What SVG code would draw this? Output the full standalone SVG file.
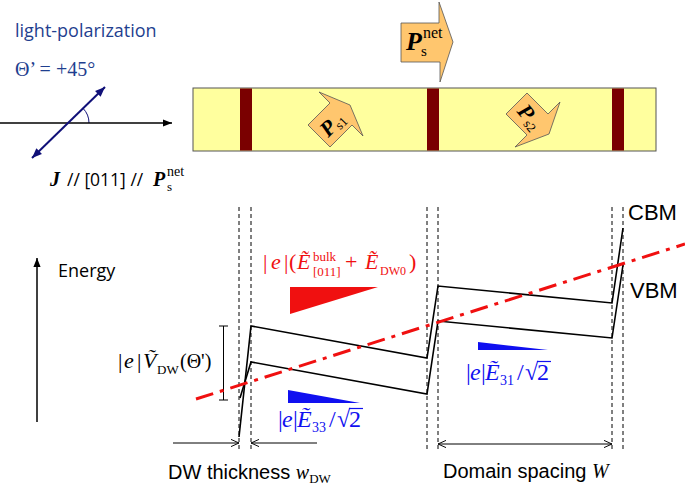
<svg xmlns="http://www.w3.org/2000/svg" width="685" height="486" viewBox="0 0 685 486">
<defs>
<style>
.sans{font-family:"Open Sans","Noto Sans",sans-serif}
.arial{font-family:"Liberation Sans",Arial,sans-serif}
.serif{font-family:"Liberation Serif","Times New Roman",serif}
.it{font-style:italic}
.bi{font-style:italic;font-weight:bold}
.dash{stroke:#000;stroke-width:1;stroke-dasharray:4 3;fill:none}
.band{stroke:#000;stroke-width:1.6;fill:none}
.dim{stroke:#000;stroke-width:1;fill:none}
.pol{fill:#ffc66e;stroke:#555;stroke-width:0.8}
.dw{fill:#7a0000}
.red{fill:#f01010}
.blue{fill:#1010f0}
</style>
<marker id="ah" viewBox="0 0 10 10" refX="10" refY="5" markerWidth="10" markerHeight="9" markerUnits="userSpaceOnUse" orient="auto-start-reverse"><path d="M0,1 L10,5 L0,9 z" fill="#000"/></marker>
<marker id="ahn" viewBox="0 0 10 10" refX="10" refY="5" markerWidth="11" markerHeight="10" markerUnits="userSpaceOnUse" orient="auto-start-reverse"><path d="M0,1 L10,5 L0,9 z" fill="#101078"/></marker>
<marker id="open" viewBox="0 0 10 10" refX="10" refY="5" markerWidth="8" markerHeight="9" markerUnits="userSpaceOnUse" orient="auto-start-reverse"><path d="M0,0.5 L10,5 L0,9.5" fill="none" stroke="#000" stroke-width="1.2"/></marker>
</defs>
<rect width="685" height="486" fill="#fff"/>

<g id="polarization">
<text class="sans" x="15" y="37" font-size="18" fill="#1f3f8f">light-polarization</text>
<text class="serif" x="15" y="76" font-size="20" fill="#1f3f8f">Θ’ = +45°</text>
<path d="M89,123 A21,21 0 0 0 83.1,108.4" fill="none" stroke="#101078" stroke-width="1"/>
<text x="50" y="186" font-size="20"><tspan class="serif bi">J</tspan><tspan class="sans" x="67" font-size="17.5">// [011] //</tspan><tspan class="serif bi" x="153">P</tspan><tspan class="serif" x="167" y="191" font-size="13">s</tspan><tspan class="serif" x="167" y="176" font-size="14">net</tspan></text>
</g>

<g id="bar">
<rect x="193" y="88" width="463" height="63" fill="#ffff9e" stroke="#555" stroke-width="1"/>
<rect class="dw" x="240" y="88.5" width="12" height="62"/>
<rect class="dw" x="427" y="88.5" width="12" height="62"/>
<rect class="dw" x="612" y="88.5" width="12" height="62"/>
</g>

<g id="arrow-net">
<polygon class="pol" points="401,23 439,23 439,2 453,42 440,82 440,62 401,62"/>
<text class="serif bi" x="406" y="50" font-size="26" fill="#000">P</text>
<text class="serif" x="421" y="56" font-size="15">s</text>
<text class="serif" x="423" y="38" font-size="16">net</text>
</g>

<g id="arrow-s1">
<polygon class="pol" points="308,125 330,103 319,92 350,105 363,136 352,125 330,147"/>
<g transform="translate(329,126) rotate(-45)">
<text class="serif bi" x="-9" y="8" font-size="22">P</text>
<text class="serif" x="5" y="11" font-size="13">s1</text>
</g>
</g>

<g id="arrow-s2">
<polygon class="pol" points="527,93 548,114 560,102 549,134 515,147 527,135 506,114"/>
<g transform="translate(525,116) rotate(50)">
<text class="serif bi" x="-9" y="4" font-size="22">P</text>
<text class="serif" x="5" y="7" font-size="13">s2</text>
</g>
</g>

<g id="connectors">
<line x1="0" y1="123" x2="172" y2="123" stroke="#000" stroke-width="1.5" marker-end="url(#ah)"/>
<line x1="32" y1="158" x2="105" y2="87" stroke="#101078" stroke-width="2" marker-start="url(#ahn)" marker-end="url(#ahn)"/>
<line x1="37" y1="422" x2="37" y2="258" stroke="#000" stroke-width="1.5" marker-end="url(#ah)"/>
<line class="dim" x1="173" y1="443" x2="239" y2="443" marker-end="url(#open)"/>
<line class="dim" x1="317" y1="443" x2="251" y2="443" marker-end="url(#open)"/>
<line class="dim" x1="438" y1="444" x2="612" y2="444" marker-start="url(#open)" marker-end="url(#open)"/>
<path class="dim" d="M219,326 H228 M223.5,326 V400 M219,400 H228"/>
</g>

<g id="dw-lines">
<line class="dash" x1="239" y1="207" x2="239" y2="452"/>
<line class="dash" x1="251" y1="207" x2="251" y2="452"/>
<line class="dash" x1="427" y1="207" x2="427" y2="452"/>
<line class="dash" x1="438" y1="207" x2="438" y2="452"/>
<line class="dash" x1="612" y1="207" x2="612" y2="452"/>
<line class="dash" x1="623" y1="207" x2="623" y2="452"/>
</g>

<g id="bands">
<polyline class="band" points="239,437 251,326 427,358 438,286 612,303 623,228"/>
<polyline class="band" points="240,398 251,362 427,394 438,321 612,338 623,265"/>
<line x1="196" y1="399" x2="685" y2="244" stroke="#f01010" stroke-width="3" stroke-dasharray="18 7 4 7"/>
<polygon class="red" points="290,287 378,287 290,314"/>
<polygon class="blue" points="288,390 360,403 288,403"/>
<polygon class="blue" points="478,342 548,350 478,350"/>
</g>

<g id="labels">
<text class="sans" x="58" y="277" font-size="18">Energy</text>
<text class="arial" x="628" y="220" font-size="22">CBM</text>
<text class="arial" x="630" y="298" font-size="22">VBM</text>
<text class="serif red" font-size="22" y="269"><tspan x="263">|</tspan><tspan class="it" x="271">e</tspan><tspan x="284">|</tspan><tspan x="289">(</tspan><tspan class="it" x="297">E&#x303;</tspan><tspan x="313" y="261" font-size="13">bulk</tspan><tspan x="313" y="276" font-size="13">[011]</tspan><tspan x="345" y="269">+</tspan><tspan class="it" x="365">E&#x303;</tspan><tspan x="380" y="275" font-size="12">DW0</tspan><tspan x="409" y="269">)</tspan></text>
<text class="serif" font-size="22" y="368" fill="#000"><tspan x="118">|</tspan><tspan class="it" x="124">e</tspan><tspan x="137">|</tspan><tspan class="it" x="143">V&#x303;</tspan><tspan x="157" y="374" font-size="13">DW</tspan><tspan x="180" y="368" font-size="20">(Θ')</tspan></text>
<text class="serif" font-size="24" y="427" fill="#1010f0"><tspan x="278">|</tspan><tspan class="it" x="282">e</tspan><tspan x="293">|</tspan><tspan class="it" x="297">E&#x303;</tspan><tspan x="312" y="432" font-size="14">33</tspan><tspan x="329" y="427">/</tspan><tspan x="337">√</tspan><tspan x="349">2</tspan></text>
<line x1="349" y1="408.5" x2="363" y2="408.5" stroke="#1010f0" stroke-width="1.2"/>
<text class="serif" font-size="24" y="380" fill="#1010f0"><tspan x="466">|</tspan><tspan class="it" x="470">e</tspan><tspan x="481">|</tspan><tspan class="it" x="485">E&#x303;</tspan><tspan x="500" y="385" font-size="14">31</tspan><tspan x="517" y="380">/</tspan><tspan x="525">√</tspan><tspan x="537">2</tspan></text>
<line x1="537" y1="361.5" x2="551" y2="361.5" stroke="#1010f0" stroke-width="1.2"/>
<text class="arial" font-size="20" x="168" y="479">DW thickness <tspan class="serif it">w</tspan><tspan class="serif" font-size="13" y="483">DW</tspan></text>
<text class="arial" font-size="20" x="443" y="478">Domain spacing <tspan class="serif it">W</tspan></text>
</g>
</svg>
